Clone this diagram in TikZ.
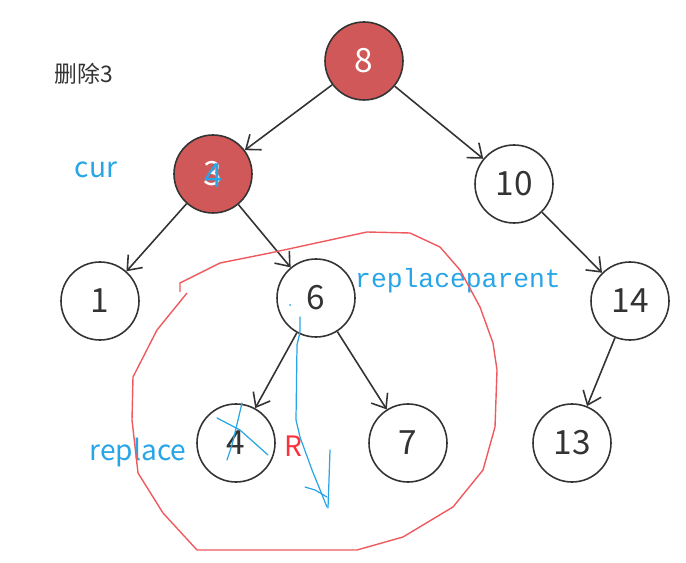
\documentclass[tikz,border=0pt]{standalone}
\usepackage{fontspec}
\setmainfont{Noto Sans CJK SC}
\newfontfamily\monof{Liberation Mono}
\usetikzlibrary{arrows.meta}
\definecolor{nodered}{RGB}{208,88,88}
\definecolor{penblue}{RGB}{40,165,230}
\definecolor{penred}{RGB}{240,90,95}
\definecolor{txtred}{RGB}{250,50,60}
\begin{document}
\begin{tikzpicture}[x=0.02cm,y=-0.02cm,
  tnode/.style={circle,draw=black!80,line width=0.9pt,minimum size=78*0.02cm,inner sep=0pt,font=\fontsize{19}{19}\selectfont,text=black!80},
  rnode/.style={tnode,fill=nodered,text=white},
  edge/.style={draw=black!80,line width=0.9pt,-{Straight Barb[length=7pt,width=11pt,line width=0.9pt]}},
  bluetxt/.style={text=penblue,font=\fontsize{16}{16}\selectfont},
  pen/.style={draw=penblue,line width=0.7pt,line cap=round,line join=round}]
\useasboundingbox (0,0) rectangle (686,563);
\node[rnode] (n8) at (364,61) {8};
\node[rnode] (n3) at (213,174) {3};
\node[tnode] (n10) at (514,184) {10};
\node[tnode] (n1) at (100,301) {1};
\node[tnode] (n6) at (316,298) {6};
\node[tnode] (n14) at (630,301) {14};
\node[tnode] (n4) at (236,443) {4};
\node[tnode] (n7) at (408,443) {7};
\node[tnode] (n13) at (572,443) {13};
\draw[edge] (n8) -- (n3);
\draw[edge] (n8) -- (n10);
\draw[edge] (n3) -- (n1);
\draw[edge] (n3) -- (n6);
\draw[edge] (n10) -- (n14);
\draw[edge] (n6) -- (n4);
\draw[edge] (n6) -- (n7);
\draw[edge] (n14) -- (n13);
% texts
\node[text=black!80,font=\fontsize{13}{13}\selectfont] (t0) at (84,74) {删除3};
\node[bluetxt] (tcur) at (96,170) {cur};
\node[bluetxt] (trep) at (138,453) {replace};
\node[text=penblue,font=\monof\fontsize{15}{15}\selectfont] (tpar) at (458,281) {replaceparent};
\node[text=txtred,font=\fontsize{16}{16}\selectfont] (tR) at (293,446) {R};
\node[text=penblue,font=\fontsize{19}{19}\selectfont] (t4) at (214,176) {4};
% red freehand loop
\draw[penred,line width=0.8pt,line join=round]
 (180,292) -- (180,283) -- (220,263) -- (270,253) -- (307,245) -- (367,232) -- (410,233)
 -- (440,247) -- (460,270) -- (480,307) -- (493,343) -- (497,370) -- (495,427)
 -- (483,470) -- (453,507) -- (403,537) -- (357,550) -- (197,550) -- (163,513)
 -- (138,473) -- (132,420) -- (133,377) -- (157,330) -- (187,293);
% blue pen strokes
\draw[pen] (300,317) -- (300,332) -- (297,345) -- (296,420) -- (300,437) -- (312,470) -- (327,507);
\draw[pen] (305,487) -- (315,490) -- (327,497);
\draw[pen] (330,450) -- (329,480) -- (328,508);
\draw[pen] (217,418) -- (240,430) -- (268,455);
\draw[pen] (242,403) -- (238,420) -- (232,445) -- (227,460);
\fill[penblue] (290,305) circle (1);
\end{tikzpicture}
\end{document}
